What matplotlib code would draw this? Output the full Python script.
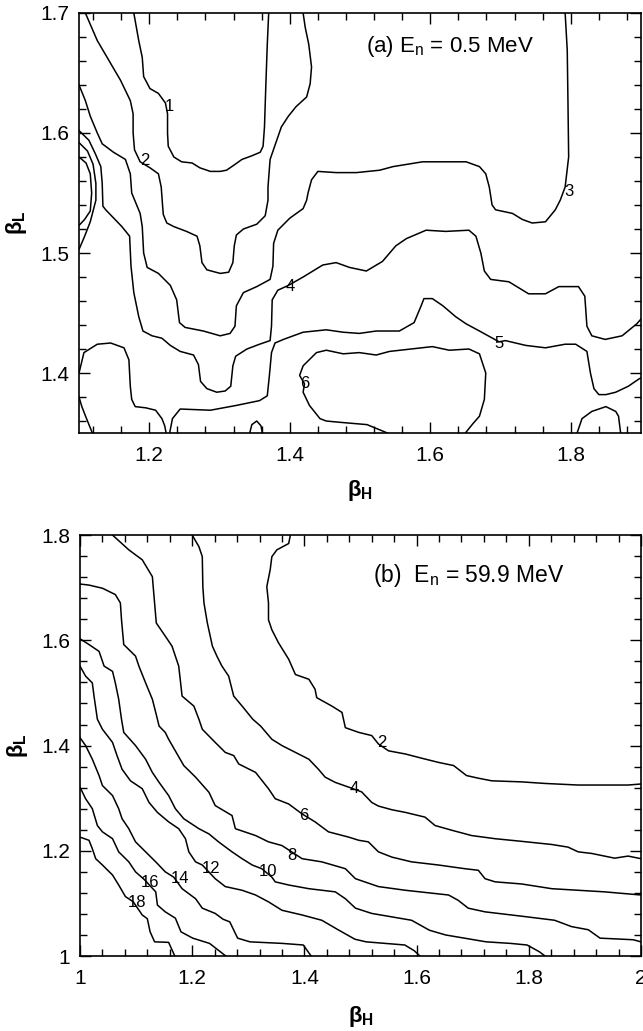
import matplotlib
matplotlib.use("Agg")
import matplotlib.pyplot as plt
from matplotlib.ticker import MultipleLocator, FuncFormatter

plt.rcParams['font.family'] = ['Liberation Sans', 'DejaVu Sans']
plt.rcParams['mathtext.fontset'] = 'custom'
plt.rcParams['mathtext.rm'] = 'Liberation Sans'
plt.rcParams['mathtext.bf'] = 'Liberation Sans:bold'

# ---------------- panel (a): En = 0.5 MeV ----------------
a1_x = [1.178, 1.185, 1.190, 1.192, 1.201, 1.213, 1.223, 1.226, 1.226, 1.227, 1.235, 1.246, 1.261, 1.272,
        1.287, 1.301, 1.310, 1.320, 1.332, 1.346, 1.358, 1.362, 1.364, 1.366, 1.368, 1.370]
a1_y = [1.700, 1.677, 1.663, 1.647, 1.637, 1.633, 1.625, 1.616, 1.600, 1.589, 1.580, 1.576, 1.575, 1.571,
        1.568, 1.568, 1.569, 1.573, 1.578, 1.581, 1.584, 1.589, 1.605, 1.641, 1.674, 1.700]

a2_x = [1.109, 1.126, 1.145, 1.159, 1.173, 1.177, 1.177, 1.179, 1.187, 1.201, 1.213, 1.217, 1.219, 1.220,
        1.225, 1.235, 1.253, 1.268, 1.272, 1.275, 1.282, 1.301, 1.313, 1.319, 1.321, 1.324, 1.334, 1.353,
        1.365, 1.369, 1.369, 1.372, 1.388, 1.398, 1.409, 1.424, 1.429, 1.431, 1.427, 1.422, 1.419]
a2_y = [1.700, 1.677, 1.658, 1.644, 1.627, 1.616, 1.600, 1.586, 1.576, 1.571, 1.566, 1.555, 1.539, 1.532,
        1.525, 1.522, 1.518, 1.514, 1.506, 1.492, 1.486, 1.483, 1.484, 1.492, 1.506, 1.515, 1.520, 1.524,
        1.531, 1.544, 1.555, 1.578, 1.605, 1.614, 1.622, 1.630, 1.641, 1.655, 1.674, 1.688, 1.700]

a3_x = [1.100, 1.109, 1.116, 1.126, 1.133, 1.149, 1.166, 1.173, 1.175, 1.187, 1.190, 1.192, 1.197, 1.213,
        1.230, 1.239, 1.243, 1.251, 1.277, 1.301, 1.315, 1.322, 1.324, 1.334, 1.353, 1.372, 1.376, 1.377,
        1.383, 1.400, 1.419, 1.424, 1.426, 1.431, 1.440, 1.466, 1.495, 1.528, 1.547, 1.589, 1.651, 1.670,
        1.679, 1.684, 1.688, 1.693, 1.717, 1.731, 1.745, 1.764, 1.778, 1.785, 1.792, 1.797, 1.796, 1.795,
        1.792]
a3_y = [1.640, 1.627, 1.614, 1.600, 1.591, 1.584, 1.578, 1.566, 1.550, 1.533, 1.522, 1.500, 1.488, 1.483,
        1.473, 1.461, 1.442, 1.438, 1.435, 1.431, 1.433, 1.439, 1.456, 1.467, 1.472, 1.478, 1.489, 1.508,
        1.519, 1.529, 1.537, 1.544, 1.550, 1.561, 1.568, 1.567, 1.567, 1.569, 1.572, 1.576, 1.576, 1.572,
        1.566, 1.555, 1.540, 1.536, 1.533, 1.528, 1.525, 1.526, 1.536, 1.544, 1.555, 1.580, 1.627, 1.669,
        1.700]

a4_x = [1.100, 1.114, 1.123, 1.131, 1.133, 1.134, 1.138, 1.161, 1.172, 1.174, 1.178, 1.185, 1.191, 1.204,
        1.218, 1.230, 1.244, 1.263, 1.270, 1.273, 1.282, 1.296, 1.308, 1.316, 1.319, 1.323, 1.339, 1.357,
        1.372, 1.374, 1.375, 1.383, 1.398, 1.419, 1.447, 1.466, 1.485, 1.509, 1.532, 1.551, 1.566, 1.594,
        1.622, 1.655, 1.665, 1.672, 1.677, 1.686, 1.712, 1.740, 1.764, 1.783, 1.811, 1.820, 1.823, 1.830,
        1.849, 1.873, 1.894, 1.900]
a4_y = [1.602, 1.594, 1.583, 1.572, 1.558, 1.539, 1.536, 1.522, 1.514, 1.489, 1.467, 1.447, 1.435, 1.431,
        1.429, 1.423, 1.418, 1.415, 1.407, 1.393, 1.387, 1.384, 1.385, 1.389, 1.406, 1.414, 1.420, 1.424,
        1.427, 1.439, 1.461, 1.469, 1.473, 1.480, 1.490, 1.492, 1.488, 1.485, 1.493, 1.506, 1.512, 1.519,
        1.518, 1.519, 1.514, 1.500, 1.485, 1.478, 1.476, 1.466, 1.466, 1.472, 1.472, 1.464, 1.439, 1.431,
        1.428, 1.431, 1.441, 1.445]

# level 5 comes in two pieces that both meet the bottom frame near 1.22
a5a_x = [1.100, 1.107, 1.126, 1.145, 1.164, 1.171, 1.173, 1.175, 1.180, 1.195, 1.209, 1.218, 1.222, 1.224]
a5a_y = [1.400, 1.417, 1.424, 1.425, 1.421, 1.411, 1.389, 1.378, 1.372, 1.371, 1.369, 1.362, 1.356, 1.350]
a5b_x = [1.229, 1.233, 1.244, 1.287, 1.324, 1.357, 1.368, 1.371, 1.374, 1.379, 1.391, 1.419, 1.452, 1.476,
         1.499, 1.523, 1.556, 1.577, 1.587, 1.591, 1.603, 1.618, 1.636, 1.651, 1.670, 1.698, 1.707, 1.736,
         1.764, 1.792, 1.807, 1.823, 1.828, 1.833, 1.840, 1.850, 1.864, 1.882, 1.897, 1.900]
a5b_y = [1.350, 1.362, 1.370, 1.369, 1.373, 1.377, 1.381, 1.398, 1.417, 1.425, 1.428, 1.434, 1.436, 1.434,
         1.433, 1.435, 1.435, 1.442, 1.456, 1.462, 1.462, 1.456, 1.447, 1.441, 1.435, 1.426, 1.427, 1.423,
         1.421, 1.424, 1.424, 1.418, 1.400, 1.387, 1.382, 1.382, 1.384, 1.389, 1.395, 1.396]

a6_x = [1.539, 1.510, 1.470, 1.452, 1.443, 1.428, 1.419, 1.421, 1.414, 1.419, 1.438, 1.452, 1.476, 1.499,
        1.523, 1.542, 1.603, 1.627, 1.655, 1.670, 1.679, 1.677, 1.670, 1.661, 1.650]
a6_y = [1.350, 1.357, 1.359, 1.360, 1.362, 1.373, 1.384, 1.391, 1.398, 1.406, 1.417, 1.419, 1.416, 1.417,
        1.415, 1.418, 1.422, 1.419, 1.420, 1.416, 1.400, 1.378, 1.364, 1.358, 1.350]

# small closed pieces near the frame
corner_x = [1.100, 1.104, 1.110, 1.119]
corner_y = [1.380, 1.372, 1.363, 1.350]
bump_r_x = [1.809, 1.816, 1.830, 1.850, 1.864, 1.868, 1.871]
bump_r_y = [1.350, 1.362, 1.368, 1.372, 1.368, 1.364, 1.350]
bump_m_x = [1.343, 1.346, 1.353, 1.359, 1.361]
bump_m_y = [1.350, 1.357, 1.360, 1.356, 1.350]
loop_in_x = [1.100, 1.110, 1.116, 1.118, 1.116, 1.108, 1.100]
loop_in_y = [1.580, 1.575, 1.566, 1.550, 1.535, 1.528, 1.523]
loop_out_x = [1.100, 1.112, 1.120, 1.124, 1.124, 1.116, 1.108, 1.100]
loop_out_y = [1.592, 1.585, 1.574, 1.558, 1.544, 1.526, 1.514, 1.503]

a_labels = ["1", "2", "3", "4", "5", "6"]
a_label_x = [1.228, 1.193, 1.797, 1.400, 1.698, 1.421]
a_label_y = [1.622, 1.577, 1.551, 1.472, 1.425, 1.391]

# ---------------- panel (b): En = 59.9 MeV ----------------
b2_x = [1.375, 1.372, 1.351, 1.342, 1.339, 1.333, 1.336, 1.336, 1.342, 1.354, 1.372, 1.384, 1.408, 1.419,
        1.422, 1.449, 1.467, 1.473, 1.497, 1.520, 1.532, 1.550, 1.580, 1.609, 1.639, 1.666, 1.689, 1.710,
        1.734, 1.787, 1.829, 1.888, 1.977, 2.000]
b2_y = [1.800, 1.784, 1.772, 1.759, 1.734, 1.702, 1.671, 1.639, 1.620, 1.595, 1.564, 1.535, 1.526, 1.507,
        1.491, 1.475, 1.463, 1.434, 1.425, 1.419, 1.403, 1.390, 1.384, 1.376, 1.368, 1.362, 1.343, 1.338,
        1.333, 1.331, 1.328, 1.325, 1.325, 1.327]

b4_x = [1.200, 1.212, 1.218, 1.219, 1.221, 1.227, 1.236, 1.244, 1.253, 1.265, 1.274, 1.289, 1.308, 1.322,
        1.342, 1.360, 1.384, 1.408, 1.425, 1.437, 1.455, 1.479, 1.502, 1.520, 1.532, 1.556, 1.580, 1.615,
        1.633, 1.663, 1.698, 1.740, 1.787, 1.841, 1.870, 1.888, 1.912, 1.953, 1.977, 2.000]
b4_y = [1.800, 1.778, 1.759, 1.702, 1.671, 1.633, 1.589, 1.570, 1.551, 1.532, 1.494, 1.475, 1.450, 1.437,
        1.412, 1.400, 1.387, 1.374, 1.355, 1.340, 1.330, 1.321, 1.312, 1.292, 1.285, 1.278, 1.273, 1.264,
        1.248, 1.239, 1.229, 1.223, 1.218, 1.212, 1.207, 1.198, 1.195, 1.186, 1.190, 1.185]

b6_x = [1.058, 1.087, 1.111, 1.129, 1.132, 1.136, 1.152, 1.164, 1.176, 1.182, 1.203, 1.212, 1.218, 1.241,
        1.259, 1.274, 1.283, 1.313, 1.336, 1.348, 1.372, 1.396, 1.419, 1.443, 1.479, 1.497, 1.514, 1.532,
        1.556, 1.591, 1.639, 1.686, 1.710, 1.722, 1.740, 1.787, 1.841, 1.888, 1.935, 2.000]
b6_y = [1.800, 1.772, 1.753, 1.721, 1.683, 1.633, 1.608, 1.589, 1.551, 1.494, 1.475, 1.450, 1.431, 1.406,
        1.387, 1.381, 1.365, 1.349, 1.318, 1.299, 1.289, 1.270, 1.255, 1.236, 1.226, 1.220, 1.217, 1.198,
        1.188, 1.179, 1.173, 1.166, 1.163, 1.147, 1.141, 1.137, 1.128, 1.125, 1.122, 1.116]

b8_x = [1.000, 1.016, 1.040, 1.063, 1.072, 1.074, 1.078, 1.099, 1.105, 1.117, 1.129, 1.135, 1.141, 1.152,
        1.158, 1.185, 1.206, 1.230, 1.241, 1.271, 1.277, 1.313, 1.336, 1.360, 1.396, 1.431, 1.473, 1.491,
        1.532, 1.580, 1.657, 1.674, 1.692, 1.722, 1.793, 1.846, 1.876, 1.906, 1.927, 1.986, 2.000]
b8_y = [1.707, 1.705, 1.699, 1.687, 1.671, 1.639, 1.592, 1.570, 1.551, 1.519, 1.488, 1.463, 1.437, 1.425,
        1.412, 1.362, 1.340, 1.311, 1.286, 1.267, 1.242, 1.229, 1.217, 1.210, 1.185, 1.179, 1.166, 1.147,
        1.132, 1.125, 1.116, 1.106, 1.091, 1.084, 1.075, 1.068, 1.056, 1.050, 1.034, 1.031, 1.027]

b10_x = [1.000, 1.016, 1.034, 1.043, 1.058, 1.063, 1.069, 1.074, 1.078, 1.099, 1.117, 1.129, 1.141, 1.158,
         1.170, 1.185, 1.212, 1.230, 1.247, 1.271, 1.289, 1.307, 1.324, 1.342, 1.348, 1.372, 1.408, 1.455,
         1.473, 1.491, 1.520, 1.591, 1.623, 1.652, 1.724, 1.768, 1.797, 1.819, 1.829]
b10_y = [1.603, 1.592, 1.579, 1.551, 1.541, 1.519, 1.488, 1.450, 1.425, 1.400, 1.374, 1.349, 1.330, 1.305,
         1.280, 1.261, 1.242, 1.232, 1.217, 1.198, 1.185, 1.173, 1.166, 1.150, 1.141, 1.135, 1.128, 1.122,
         1.109, 1.091, 1.081, 1.068, 1.049, 1.040, 1.027, 1.024, 1.021, 1.008, 1.000]

b12_x = [1.000, 1.010, 1.022, 1.025, 1.031, 1.040, 1.058, 1.066, 1.075, 1.090, 1.111, 1.123, 1.138, 1.158,
         1.176, 1.188, 1.194, 1.206, 1.218, 1.241, 1.259, 1.289, 1.313, 1.336, 1.360, 1.396, 1.431, 1.460,
         1.490, 1.510, 1.579, 1.596, 1.606]
b12_y = [1.551, 1.532, 1.519, 1.494, 1.450, 1.431, 1.406, 1.381, 1.355, 1.333, 1.318, 1.292, 1.273, 1.255,
         1.242, 1.223, 1.198, 1.179, 1.173, 1.147, 1.132, 1.125, 1.116, 1.103, 1.087, 1.078, 1.068, 1.050,
         1.032, 1.027, 1.021, 1.010, 1.000]

b14_x = [1.000, 1.010, 1.022, 1.034, 1.040, 1.058, 1.069, 1.075, 1.087, 1.099, 1.117, 1.135, 1.152, 1.167,
         1.182, 1.206, 1.218, 1.241, 1.255, 1.267, 1.281, 1.303, 1.361, 1.398, 1.412]
b14_y = [1.415, 1.400, 1.374, 1.343, 1.324, 1.305, 1.280, 1.261, 1.242, 1.217, 1.198, 1.179, 1.160, 1.150,
         1.128, 1.109, 1.091, 1.081, 1.070, 1.065, 1.034, 1.027, 1.024, 1.021, 1.000]

b16_x = [1.000, 1.010, 1.022, 1.031, 1.040, 1.058, 1.069, 1.087, 1.099, 1.115, 1.135, 1.138, 1.152, 1.170,
         1.180, 1.201, 1.231, 1.260]
b16_y = [1.321, 1.299, 1.280, 1.248, 1.236, 1.223, 1.198, 1.179, 1.160, 1.145, 1.122, 1.097, 1.084, 1.072,
         1.046, 1.034, 1.024, 1.000]

b18_x = [1.000, 1.016, 1.022, 1.028, 1.040, 1.058, 1.069, 1.081, 1.095, 1.111, 1.120, 1.125, 1.133, 1.158,
         1.169]
b18_y = [1.226, 1.220, 1.204, 1.185, 1.173, 1.154, 1.135, 1.113, 1.103, 1.078, 1.071, 1.046, 1.027, 1.026,
         1.000]

b_labels = ["2", "4", "6", "8", "10", "12", "14", "16", "18"]
b_label_x = [1.538, 1.488, 1.399, 1.378, 1.336, 1.233, 1.179, 1.125, 1.102]
b_label_y = [1.406, 1.318, 1.267, 1.191, 1.160, 1.166, 1.147, 1.139, 1.101]

a_curves = [(a1_x, a1_y), (a2_x, a2_y), (a3_x, a3_y), (a4_x, a4_y), (a5a_x, a5a_y), (a5b_x, a5b_y),
            (a6_x, a6_y), (corner_x, corner_y), (bump_r_x, bump_r_y), (bump_m_x, bump_m_y),
            (loop_in_x, loop_in_y), (loop_out_x, loop_out_y)]
b_curves = [(b2_x, b2_y), (b4_x, b4_y), (b6_x, b6_y), (b8_x, b8_y), (b10_x, b10_y),
            (b12_x, b12_y), (b14_x, b14_y), (b16_x, b16_y), (b18_x, b18_y)]


def fmt(v, pos):
    return "%g" % round(v, 3)


def style_axes(ax, xlim, ylim, xmaj, xmin, ymaj, ymin, xlab_y):
    ax.set_xlim(*xlim)
    ax.set_ylim(*ylim)
    ax.xaxis.set_major_locator(MultipleLocator(xmaj))
    ax.xaxis.set_minor_locator(MultipleLocator(xmin))
    ax.yaxis.set_major_locator(MultipleLocator(ymaj))
    ax.yaxis.set_minor_locator(MultipleLocator(ymin))
    ax.xaxis.set_major_formatter(FuncFormatter(fmt))
    ax.yaxis.set_major_formatter(FuncFormatter(fmt))
    ax.tick_params(which='both', direction='in', top=True, right=True, width=1.0, labelsize=15)
    ax.tick_params(axis='x', which='major', pad=9)
    ax.tick_params(axis='y', which='major', pad=7)
    ax.tick_params(which='major', length=8)
    ax.tick_params(which='minor', length=5)
    for s in ax.spines.values():
        s.set_linewidth(1.2)
    ax.set_xlabel(r"β$_\mathbf{H}$", fontsize=16, fontweight='bold')
    ax.set_ylabel(r"β$_\mathbf{L}$", fontsize=16, fontweight='bold')
    ax.xaxis.set_label_coords(0.5, xlab_y)
    ax.yaxis.set_label_coords(-0.089, 0.5)


fig = plt.figure(figsize=(6.43, 10.31), dpi=100)
ax_a = fig.add_axes([0.1229, 0.5800, 0.8740, 0.4074])
ax_b = fig.add_axes([0.1244, 0.0727, 0.8725, 0.4083])

for cx, cy in a_curves:
    ax_a.plot(cx, cy, color='black', lw=1.1, solid_joinstyle='round')
for t, tx, ty in zip(a_labels, a_label_x, a_label_y):
    ax_a.text(tx, ty, t, fontsize=12, ha='center', va='center')
ax_a.text(1.509, 1.672, r"(a) E$_\mathregular{n}$ = 0.5 MeV", fontsize=16, ha='left', va='center')
style_axes(ax_a, (1.1, 1.9), (1.35, 1.7), 0.2, 0.04, 0.1, 0.02, -0.108)

for cx, cy in b_curves:
    ax_b.plot(cx, cy, color='black', lw=1.1, solid_joinstyle='round')
for t, tx, ty in zip(b_labels, b_label_x, b_label_y):
    ax_b.text(tx, ty, t, fontsize=12, ha='center', va='center')
ax_b.text(1.523, 1.724, r"(b)  E$_\mathregular{n}$ = 59.9 MeV", fontsize=16.5, ha='left', va='center')
style_axes(ax_b, (1.0, 2.0), (1.0, 1.8), 0.2, 0.04, 0.2, 0.04, -0.114)

fig.savefig("out.png", dpi=100)
